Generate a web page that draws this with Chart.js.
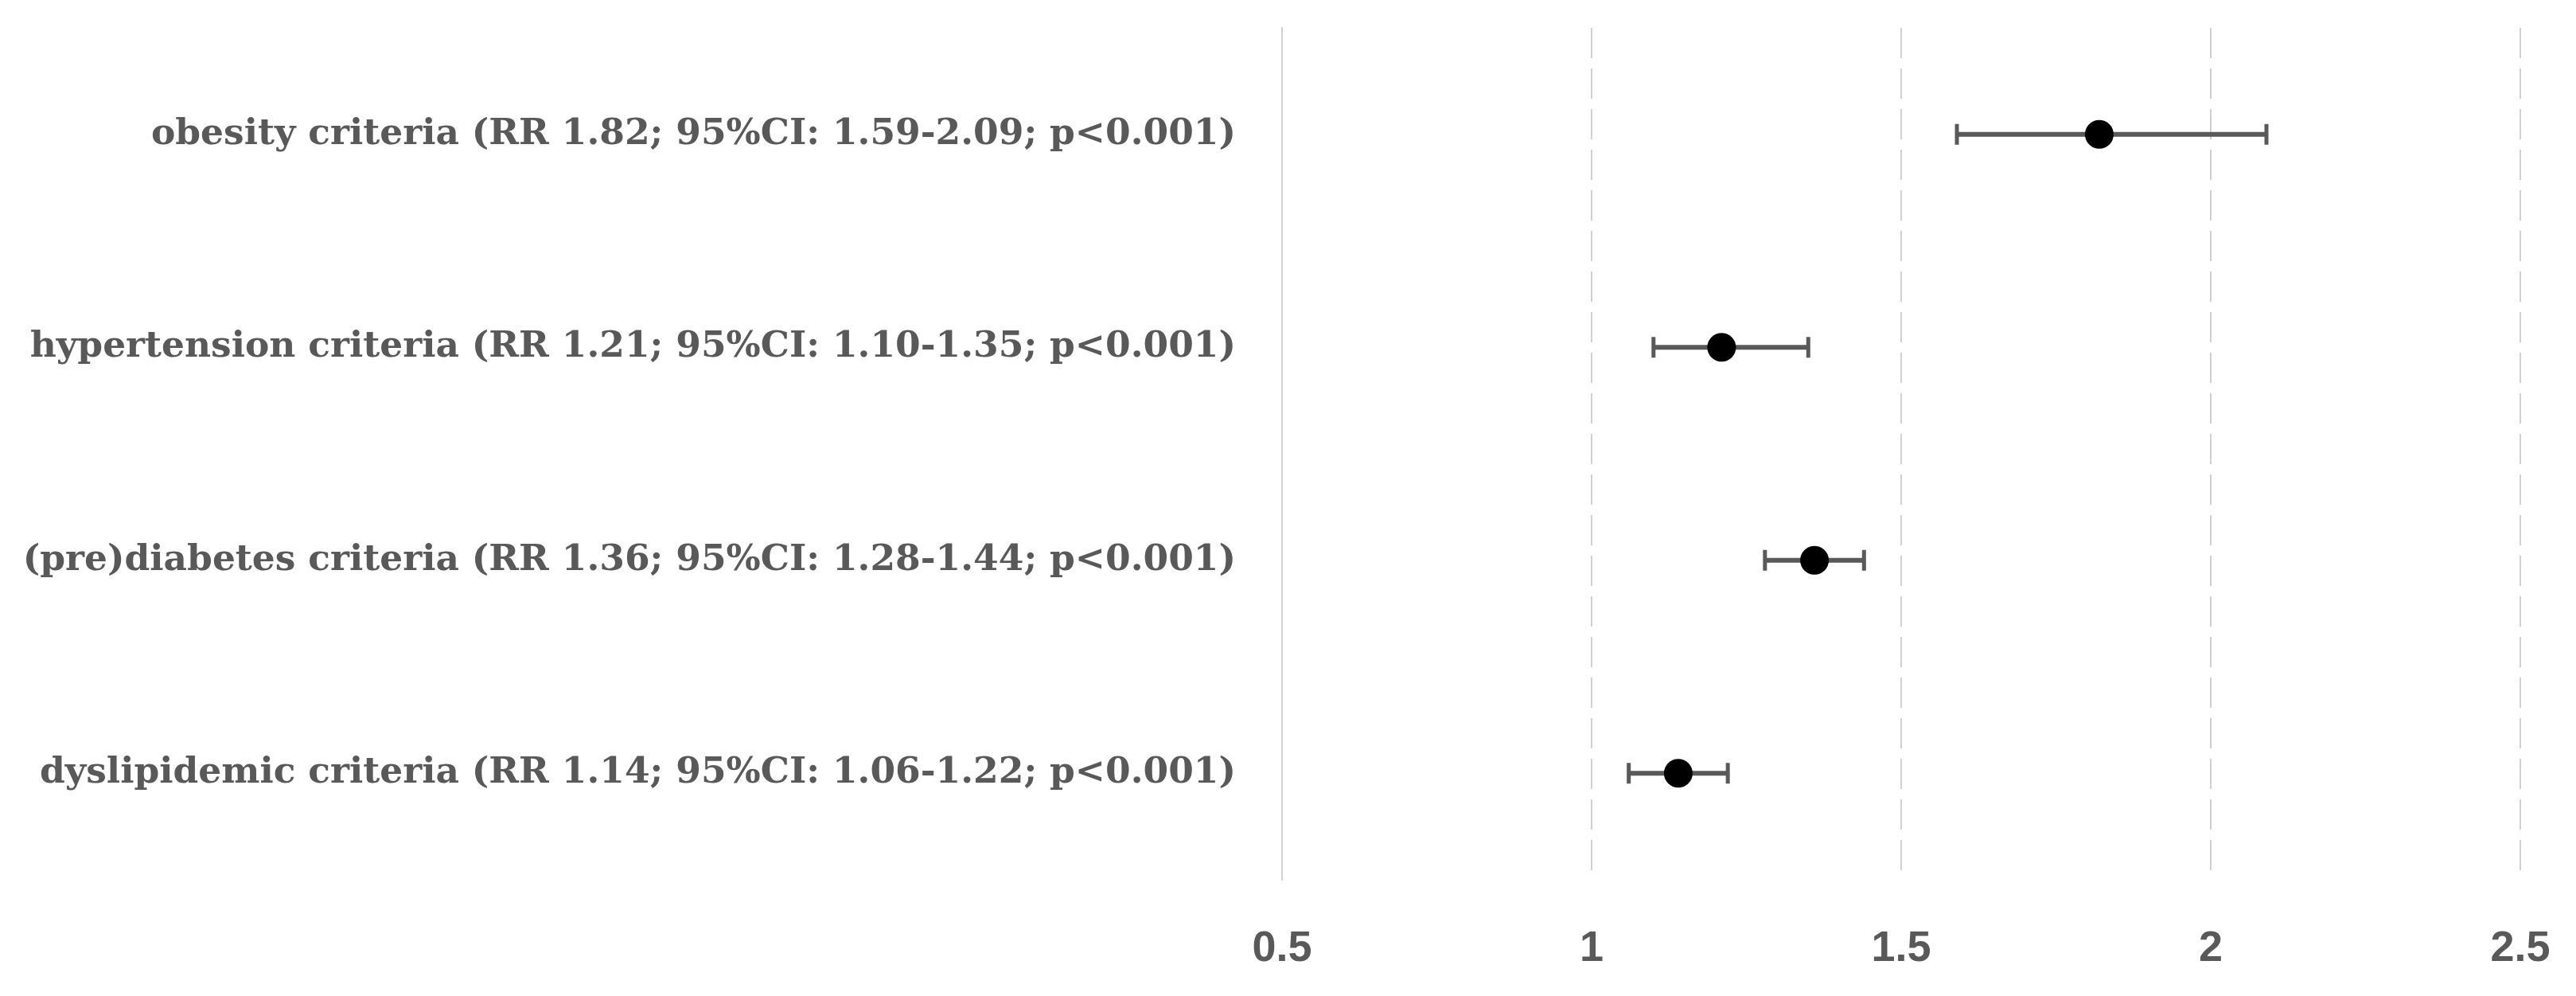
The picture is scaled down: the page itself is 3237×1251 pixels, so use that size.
<!DOCTYPE html>
<html>
<head>
<meta charset="utf-8">
<script src="https://cdn.jsdelivr.net/npm/chart.js@4/dist/chart.umd.min.js"></script>
<style>
  html, body { margin: 0; padding: 0; background: #ffffff; }
  #wrap { width: 3237px; height: 1251px; }
</style>
</head>
<body>
<div id="wrap"><canvas id="forestChart" width="3237" height="1251"></canvas></div>
<script>
const criteria = [
  "obesity criteria (RR 1.82; 95%CI: 1.59-2.09; p<0.001)",
  "hypertension criteria (RR 1.21; 95%CI: 1.10-1.35; p<0.001)",
  "(pre)diabetes criteria (RR 1.36; 95%CI: 1.28-1.44; p<0.001)",
  "dyslipidemic criteria (RR 1.14; 95%CI: 1.06-1.22; p<0.001)",
];
const riskRatio = [1.82, 1.21, 1.36, 1.14];
const ciLower = [1.59, 1.10, 1.28, 1.06];
const ciUpper = [2.09, 1.35, 1.44, 1.22];
const xTicks = [0.5, 1, 1.5, 2, 2.5];

const textColor = "#595959";
const gridColor = "#d0d0d0";
const labelFont = { family: "'DejaVu Serif', serif", size: 45.5, weight: "bold" };
const tickFont = { family: "'Liberation Sans', Arial, sans-serif", size: 54, weight: "bold" };

// draws the CI whiskers under the points
const errorBars = {
  id: "errorBars",
  beforeDatasetsDraw(chart) {
    const ctx = chart.ctx;
    const xs = chart.scales.x;
    const ys = chart.scales.y;
    ctx.save();
    ctx.strokeStyle = textColor;
    for (let i = 0; i < criteria.length; i++) {
      const y = ys.getPixelForValue(i);
      const x1 = xs.getPixelForValue(ciLower[i]);
      const x2 = xs.getPixelForValue(ciUpper[i]);
      ctx.lineWidth = 6;
      ctx.beginPath();
      ctx.moveTo(x1, y);
      ctx.lineTo(x2, y);
      ctx.stroke();
      ctx.lineWidth = 5;
      ctx.beginPath();
      ctx.moveTo(x1, y - 13);
      ctx.lineTo(x1, y + 13);
      ctx.moveTo(x2, y - 13);
      ctx.lineTo(x2, y + 13);
      ctx.stroke();
    }
    ctx.restore();
  },
};

const fc = document.getElementById("forestChart");
new Chart(fc, {
  type: "scatter",
  data: {
    datasets: [
      {
        label: "RR",
        data: riskRatio.map((v, i) => ({ x: v, y: criteria[i] })),
        backgroundColor: "#000000",
        borderWidth: 0,
        pointRadius: 18,
        pointHoverRadius: 18,
      },
    ],
  },
  options: {
    responsive: false,
    animation: false,
    layout: { padding: { left: 0, right: 70, top: 35, bottom: 36 } },
    plugins: {
      legend: { display: false },
      tooltip: { enabled: false },
    },
    scales: {
      x: {
        type: "linear",
        min: 0.5,
        max: 2.5,
        afterBuildTicks: (s) => {
          s.ticks = xTicks.map((v) => ({ value: v }));
        },
        afterFit: (s) => {
          s.height = 110;
          s.paddingLeft = 0;
          s.paddingRight = 0;
        },
        ticks: {
          color: textColor,
          font: tickFont,
          padding: 55,
          maxRotation: 0,
          callback: (v) => String(v),
        },
        grid: { color: gridColor, lineWidth: 2, drawTicks: false },
        border: { display: false, dash: [38, 13] },
      },
      y: {
        type: "category",
        labels: criteria,
        offset: true,
        afterFit: (s) => {
          s.width = 1611;
          s.paddingTop = 0;
          s.paddingBottom = 0;
        },
        ticks: { color: textColor, font: labelFont, padding: 58 },
        grid: { display: false, drawTicks: false },
        border: { display: true, color: gridColor, width: 2 },
      },
    },
  },
  plugins: [errorBars],
});
</script>
</body>
</html>
